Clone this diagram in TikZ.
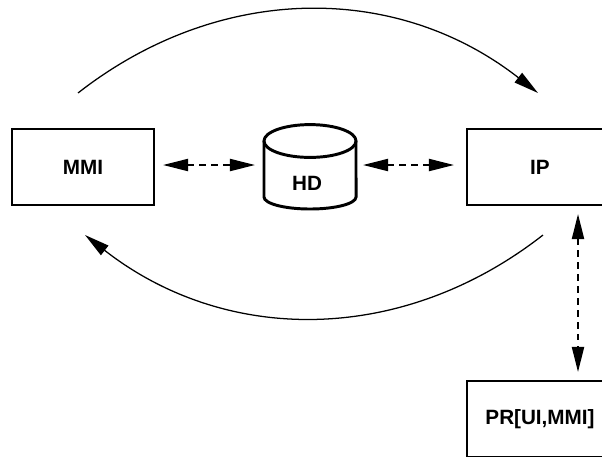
\documentclass[tikz,border=0pt]{standalone}
\usepackage{fontspec}
\setmainfont{Liberation Sans}
\usetikzlibrary{arrows.meta,positioning}

\begin{document}
\begin{tikzpicture}[
  x=0.025cm, y=0.025cm,
  >={Triangle[length=0.625cm, width=0.3cm]},
  font=\fontsize{14.7}{17}\selectfont\bfseries,
  block/.style={draw, line width=2.1pt, minimum width=3.65cm, minimum height=1.9cm, inner sep=0pt, outer sep=0pt},
  dbline/.style={line width=2.1pt},
  dbbox/.style={minimum width=2.3cm, minimum height=2.15cm, inner sep=0pt, outer sep=0pt},
  link/.style={<->, line width=1.4pt, dash pattern=on 4.5pt off 4pt},
  flow/.style={->, line width=0.9pt}
]
\useasboundingbox (0,0) rectangle (602,-456);

% Blocs principaux
\node[block, minimum width=3.55cm] (mmi) at (83,-167) {MMI};
\node[block] (ip) at (540,-167) {IP};
\node[block] (pr) at (540,-419) {PR[UI,MMI]};

% Disque dur
\node[dbbox] (hd) at (310,-167) {};
\draw[dbline] (310,-141) ellipse [x radius=1.15cm, y radius=0.41cm];
\draw[dbline] (264,-141) -- (264,-197)
  arc[start angle=180, end angle=360, x radius=1.15cm, y radius=0.3cm] -- (356,-141);
\node (hdtxt) at (307,-183) {HD};

% Echanges en pointilles
\draw[link] ([shift={(9,2)}]mmi.east) -- ([shift={(-9,2)}]hd.west);
\draw[link] ([shift={(7,2)}]hd.east) -- ([shift={(-13,2)}]ip.west);
\draw[link] ([shift={(38,-9)}]ip.south) -- ([shift={(38,9)}]pr.north);

% Boucle MMI -> IP -> MMI
\draw[flow] ([shift={(-5,36)}]mmi.north) to[bend left=38] ([shift={(-2,36)}]ip.north);
\draw[flow] ([shift={(3,-30)}]ip.south) to[bend left=38] ([shift={(2,-30)}]mmi.south);

\end{tikzpicture}
\end{document}
